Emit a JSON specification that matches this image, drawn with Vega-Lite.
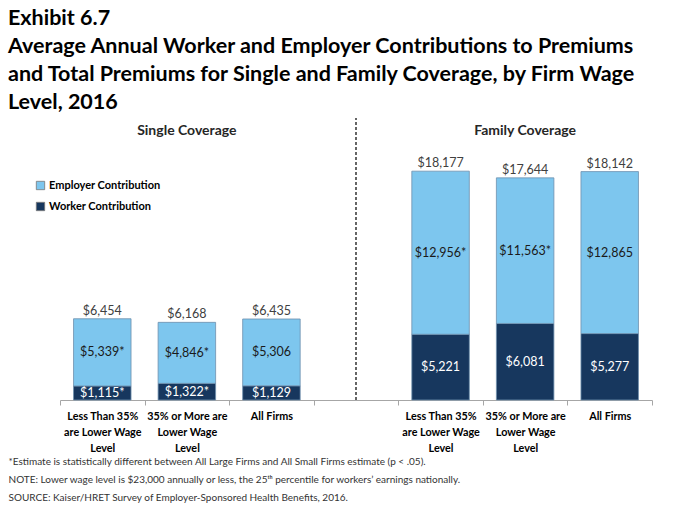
{
  "$schema": "https://vega.github.io/schema/vega-lite/v6.json",
  "autosize": {"type": "none"},
  "width": 592,
  "height": 282,
  "padding": {"left": 60, "top": 118, "right": 46, "bottom": 123},
  "background": "white",
  "config": {"font": "Lato", "view": {"stroke": null}},
  "title": {
    "text": ["Exhibit 6.7", "Average Annual Worker and Employer Contributions to Premiums", "and Total Premiums for Single and Family Coverage, by Firm Wage", "Level, 2016"],
    "anchor": "start",
    "frame": "group",
    "dx": -52,
    "offset": 4,
    "fontSize": 21.5,
    "fontWeight": "bold",
    "lineHeight": 28,
    "color": "#000000"
  },
  "data": {
    "values": [
      {"cat": "A1", "part": "Worker Contribution", "value": 1115, "label": "$1,115*", "total": 6454},
      {"cat": "A1", "part": "Employer Contribution", "value": 5339, "label": "$5,339*", "total": 6454},
      {"cat": "B1", "part": "Worker Contribution", "value": 1322, "label": "$1,322*", "total": 6168},
      {"cat": "B1", "part": "Employer Contribution", "value": 4846, "label": "$4,846*", "total": 6168},
      {"cat": "C1", "part": "Worker Contribution", "value": 1129, "label": "$1,129", "total": 6435},
      {"cat": "C1", "part": "Employer Contribution", "value": 5306, "label": "$5,306", "total": 6435},
      {"cat": "A2", "part": "Worker Contribution", "value": 5221, "label": "$5,221", "total": 18177},
      {"cat": "A2", "part": "Employer Contribution", "value": 12956, "label": "$12,956*", "total": 18177},
      {"cat": "B2", "part": "Worker Contribution", "value": 6081, "label": "$6,081", "total": 17644},
      {"cat": "B2", "part": "Employer Contribution", "value": 11563, "label": "$11,563*", "total": 17644},
      {"cat": "C2", "part": "Worker Contribution", "value": 5277, "label": "$5,277", "total": 18142},
      {"cat": "C2", "part": "Employer Contribution", "value": 12865, "label": "$12,865", "total": 18142}
    ]
  },
  "encoding": {
    "x": {
      "field": "cat",
      "type": "nominal",
      "scale": {"domain": ["A1", "B1", "C1", "gap", "A2", "B2", "C2"], "paddingInner": 0, "paddingOuter": 0},
      "axis": {
        "labelExpr": "(datum.label == 'A1' || datum.label == 'A2') ? ['Less Than 35%', 'are Lower Wage', 'Level'] : (datum.label == 'B1' || datum.label == 'B2') ? ['35% or More are', 'Lower Wage', 'Level'] : (datum.label == 'C1' || datum.label == 'C2') ? 'All Firms' : ''",
        "labelAngle": 0,
        "labelFontSize": 10.8,
        "labelFontWeight": "bold",
        "labelColor": "#000000",
        "labelLineHeight": 16,
        "labelBaseline": "top",
        "labelPadding": 5,
        "tickBand": "extent",
        "tickSize": 5,
        "tickColor": "#a6a6a6",
        "domainColor": "#a6a6a6",
        "title": ["*Estimate is statistically different between All Large Firms and All Small Firms estimate (p < .05).", "NOTE:  Lower wage level is $23,000 annually or less, the 25ᵗʰ percentile for workers’ earnings nationally.", "SOURCE:  Kaiser/HRET Survey of Employer-Sponsored Health Benefits, 2016."],
        "titleX": -52,
        "titleY": 56,
        "titleAlign": "left",
        "titleAnchor": "start",
        "titleBaseline": "top",
        "titleFontSize": 10,
        "titleFontWeight": "normal",
        "titleColor": "#333333",
        "titleLineHeight": 18
      }
    }
  },
  "layer": [
    {
      "mark": {"type": "bar", "width": {"band": 0.68}, "stroke": "#6f8fad", "strokeWidth": 0.8},
      "encoding": {
        "y": {"field": "value", "type": "quantitative", "stack": "zero", "scale": {"domain": [0, 22400], "nice": false}, "axis": null},
        "order": {"field": "part", "sort": "descending"},
        "color": {
          "field": "part",
          "type": "nominal",
          "scale": {"domain": ["Employer Contribution", "Worker Contribution"], "range": ["#7DC6EE", "#17375E"]},
          "legend": {
            "title": null,
            "orient": "none",
            "legendX": -25,
            "legendY": 62,
            "symbolType": "square",
            "symbolSize": 70,
            "symbolStrokeColor": "#777777",
            "symbolStrokeWidth": 0.8,
            "labelFontSize": 11,
            "labelFontWeight": "bold",
            "labelColor": "#000000",
            "labelOffset": 3,
            "rowPadding": 8
          }
        }
      }
    },
    {
      "transform": [
        {"stack": "value", "groupby": ["cat"], "sort": [{"field": "part", "order": "descending"}], "as": ["v0", "v1"]},
        {"calculate": "(datum.v0 + datum.v1) / 2", "as": "mid"}
      ],
      "mark": {"type": "text", "fontSize": 12.5, "baseline": "middle"},
      "encoding": {
        "y": {"field": "mid", "type": "quantitative", "axis": null},
        "text": {"field": "label"},
        "color": {"condition": {"test": "datum.part == 'Worker Contribution'", "value": "#ffffff"}, "value": "#1a1a1a"}
      }
    },
    {
      "transform": [{"filter": "datum.part == 'Employer Contribution'"}],
      "mark": {"type": "text", "fontSize": 12.5, "baseline": "bottom", "dy": -1, "color": "#404040"},
      "encoding": {
        "y": {"field": "total", "type": "quantitative", "axis": null},
        "text": {"field": "total", "format": "$,.0f"}
      }
    },
    {
      "data": {"values": [{"cat": "B1", "panel": "Single Coverage"}, {"cat": "B2", "panel": "Family Coverage"}]},
      "mark": {"type": "text", "fontSize": 14, "fontWeight": "bold", "baseline": "middle", "color": "#262626"},
      "encoding": {
        "y": {"datum": 21370, "type": "quantitative", "axis": null},
        "text": {"field": "panel"}
      }
    },
    {
      "data": {"values": [{"cat": "gap"}]},
      "mark": {"type": "rule", "strokeDash": [3, 2], "strokeWidth": 1.2, "color": "#000000"},
      "encoding": {
        "y": {"datum": 0, "type": "quantitative", "axis": null},
        "y2": {"datum": 22400}
      }
    }
  ]
}
